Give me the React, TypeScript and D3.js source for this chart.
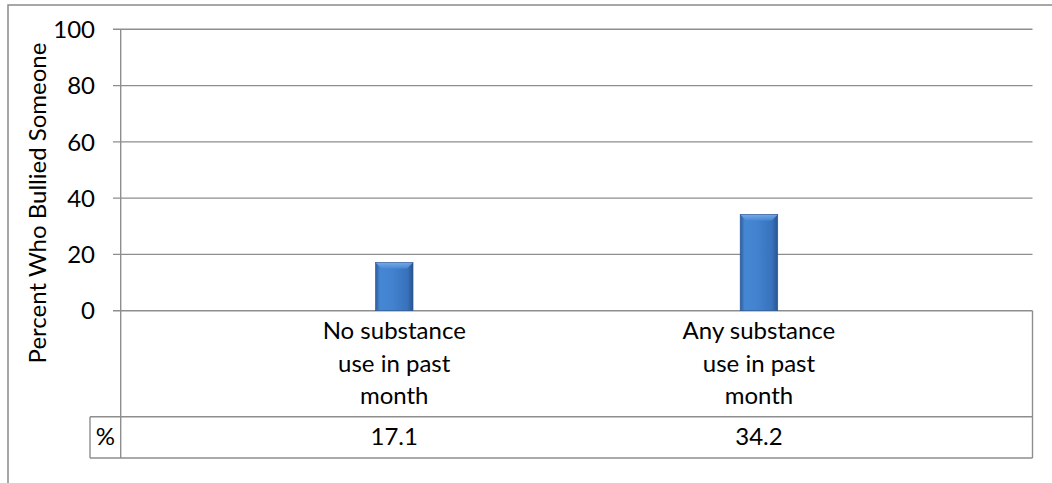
import React from "react";
import * as d3 from "d3";

const categories: string[][] = [
  ["No substance", "use in past", "month"],
  ["Any substance", "use in past", "month"],
];
const values: number[] = [17.1, 34.2];
const valueLabels: string[] = ["17.1", "34.2"];
const yTicks: number[] = [0, 20, 40, 60, 80, 100];
const yTitle = "Percent Who Bullied Someone";
const rowLabel = "%";

const W = 1052;
const H = 483;
const FONT = "Lato, 'Open Sans', sans-serif";
const GRID = "#8e8e8e";
const FS = 24;

export default function App() {
  const plotLeft = 120.7;
  const plotRight = 1032.5;
  const y = d3.scaleLinear().domain([0, 100]).range([310.7, 29.3]);
  const x = d3
    .scaleBand<number>()
    .domain(values.map((_, i) => i))
    .range([plotLeft, plotRight])
    .paddingInner(0)
    .paddingOuter(0.25);
  const barW = x.step() * 0.103;
  const labelTop = y(0);
  const rowTop = 416.7;
  const rowBottom = 458;
  const pctLeft = 90;

  return (
    <svg
      width={W}
      height={H}
      style={{ position: "fixed", left: 0, top: 0, background: "#fff" }}
      fontFamily={FONT}
    >
      <defs>
        <linearGradient id="barGrad" x1="0" x2="1" y1="0" y2="0">
          <stop offset="0%" stopColor="#2c5d9e" />
          <stop offset="12%" stopColor="#4687d3" />
          <stop offset="45%" stopColor="#4282cf" />
          <stop offset="85%" stopColor="#3872bb" />
          <stop offset="100%" stopColor="#28558f" />
        </linearGradient>
        <linearGradient id="bevel" x1="0" x2="0" y1="0" y2="1">
          <stop offset="0%" stopColor="#7fb0ea" />
          <stop offset="100%" stopColor="#4a8ad6" />
        </linearGradient>
      </defs>
      {/* outer border */}
      <path d={`M8,${H} L8,5 L${W},5`} fill="none" stroke="#8a8a8a" strokeWidth={1.5} />

      {/* gridlines and ticks */}
      {yTicks.map((t) => (
        <g key={t}>
          <line x1={113} x2={plotRight} y1={y(t)} y2={y(t)} stroke={GRID} strokeWidth={1.4} />
          <text x={95} y={y(t)} dy="0.36em" textAnchor="end" fontSize={FS} fill="#000">
            {t}
          </text>
        </g>
      ))}
      {/* y axis line extended into table */}
      <line x1={plotLeft} x2={plotLeft} y1={y(100)} y2={rowBottom} stroke={GRID} strokeWidth={1.4} />

      {/* table lines */}
      <line x1={plotRight} x2={plotRight} y1={labelTop} y2={rowBottom} stroke={GRID} strokeWidth={1.4} />
      <line x1={pctLeft} x2={plotRight} y1={rowTop} y2={rowTop} stroke={GRID} strokeWidth={1.4} />
      <line x1={pctLeft} x2={plotRight} y1={rowBottom} y2={rowBottom} stroke={GRID} strokeWidth={1.4} />
      <line x1={pctLeft} x2={pctLeft} y1={rowTop} y2={rowBottom} stroke={GRID} strokeWidth={1.4} />

      {/* y title */}
      <text
        transform={`translate(46,203) rotate(-90)`}
        textAnchor="middle"
        fontSize={FS}
        fill="#000"
      >
        {yTitle}
      </text>

      {/* bars */}
      {values.map((v, i) => {
        const cx = (x(i) as number) + x.bandwidth() / 2;
        const x0 = cx - barW / 2;
        const top = y(v);
        const bottom = y(0);
        const bev = 6;
        return (
          <g key={i}>
            <rect x={x0} y={top} width={barW} height={bottom - top} fill="url(#barGrad)" />
            <path
              d={`M${x0},${top} L${x0 + barW},${top} L${x0 + barW - bev},${top + bev} L${x0 + bev},${top + bev} Z`}
              fill="url(#bevel)"
              opacity={0.85}
            />
            <rect x={x0} y={top} width={barW} height={bottom - top} fill="none" stroke="#2a5590" strokeWidth={0.6} />
          </g>
        );
      })}

      {/* category labels */}
      {categories.map((lines, i) => {
        const cx = (x(i) as number) + x.bandwidth() / 2;
        return (
          <text key={i} x={cx} textAnchor="middle" fontSize={FS} fill="#000">
            {lines.map((l, j) => (
              <tspan key={j} x={cx} y={339.3 + j * 32.3}>
                {l}
              </tspan>
            ))}
          </text>
        );
      })}

      {/* data row */}
      <text x={(pctLeft + plotLeft) / 2} y={445} textAnchor="middle" fontSize={FS} fill="#000">
        {rowLabel}
      </text>
      {valueLabels.map((s, i) => {
        const cx = (x(i) as number) + x.bandwidth() / 2;
        return (
          <text key={i} x={cx} y={445} textAnchor="middle" fontSize={FS} fill="#000">
            {s}
          </text>
        );
      })}
    </svg>
  );
}
